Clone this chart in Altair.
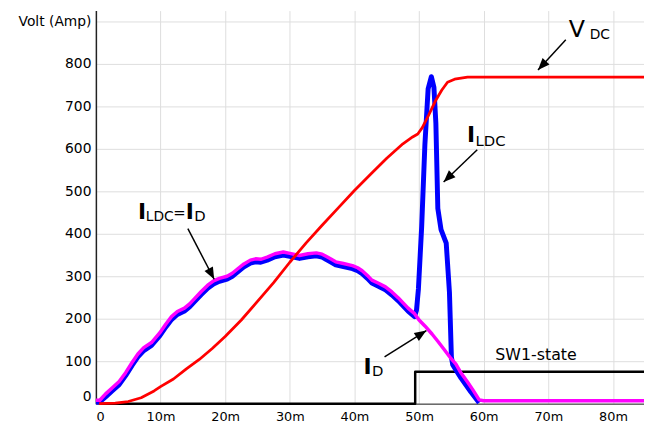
import math
import altair as alt
import pandas as pd

# ---------------- data ----------------
vdc_t = [0.5, 3, 5, 7, 9, 10, 12, 14, 16, 18, 20, 22.5, 25, 27.5, 30, 32.5, 35, 37.5, 40,
         42.5, 45, 47.5, 49.0, 49.8, 50.5, 51.5, 52.5, 53.5, 54.4, 55.5, 57.5, 84.8]
vdc_v = [0, 1, 5, 14, 30, 40, 58, 82, 104, 130, 158, 197, 241, 285, 333, 378, 420, 461, 502,
         540, 578, 612, 628, 635, 650, 680, 712, 738, 757, 764, 769, 769]

ildc_t = [0, 0.6, 1.5, 2.5, 3.6, 4.6, 5.6, 6.5, 7.4, 8.6, 9.9, 10.8, 11.7, 12.6, 13.7, 14.5,
          15.3, 16.3, 17.3, 18.2, 19.1, 20.3, 21.1, 21.9, 22.9, 23.9, 24.7, 25.5, 26.5, 27.7,
          29.0, 30.0, 31.5, 32.8, 34.1, 35.0, 35.6, 36.3, 37.1, 38.3, 39.7, 40.5, 41.2, 42.0,
          42.7, 43.8, 44.8, 45.8, 46.8, 47.6, 48.3, 49.3,
          49.6, 49.9, 50.4, 50.9, 51.4, 51.9, 52.3, 52.6, 52.9, 53.4, 54.2, 54.7, 55.0, 55.2,
          56.5, 58.0, 59.3]
ildc_v = [4, 4, 16, 30, 45, 66, 90, 110, 125, 137, 160, 180, 198, 210, 218, 228,
          241, 257, 272, 282, 288, 293, 300, 310, 322, 331, 334, 333, 338, 346,
          350, 347, 342, 346, 348, 345, 340, 334, 327, 323, 318, 313, 306, 295,
          284, 276, 268, 256, 242, 229, 218, 205,
          220, 270, 416, 610, 741, 770, 745, 660, 460, 410, 378, 262, 110, 92,
          60, 28, 2]

id_t = [0, 0.6, 1.5, 2.5, 3.6, 4.6, 5.6, 6.5, 7.4, 8.6, 9.9, 10.8, 11.7, 12.6, 13.7, 14.5,
        15.3, 16.3, 17.3, 18.2, 19.1, 20.3, 21.1, 21.9, 22.9, 23.9, 24.7, 25.5, 26.5, 27.7,
        29.0, 30.0, 31.5, 32.8, 34.1, 35.0, 35.6, 36.3, 37.1, 38.3, 39.7, 40.5, 41.2, 42.0,
        42.7, 43.8, 44.8, 45.8, 46.8, 47.6, 48.3, 49.3,
        50.0, 50.9, 52.0, 52.9, 54.0, 54.9, 55.7, 56.5, 57.5, 58.3, 59.3, 60.0, 84.8]
id_v = [8, 8, 23, 37, 52, 73, 97, 117, 132, 144, 167, 187, 205, 217, 225, 235,
        248, 264, 279, 289, 295, 300, 307, 317, 329, 338, 341, 340, 345, 353,
        357, 354, 349, 353, 355, 352, 347, 341, 334, 330, 325, 320, 313, 302,
        291, 283, 275, 263, 249, 236, 225, 212,
        197, 183, 164, 147, 125, 107, 93, 72, 51, 33, 9, 7, 7]

sw_t = [0.5, 49.4, 49.4, 84.8]
sw_v = [0, 0, 75, 75]

x_ticks = [0, 10, 20, 30, 40, 50, 60, 70, 80]
y_ticks = [0, 100, 200, 300, 400, 500, 600, 700, 800, 900]

# annotation text pieces: (t, v, text, font size, bold)
ann_t = [73.15, 76.4, 57.4, 58.74, 6.5, 7.72, 11.98, 13.92, 15.2, 41.4, 42.7, 61.8]
ann_v = [863, 858, 615, 607, 435, 429, 438, 435, 429, 71, 66, 103.5]
ann_text = ["V", "DC", "I", "LDC", "I", "LDC", "=", "I", "D", "I", "D", "SW1-state"]
ann_size = [24, 14, 22, 15, 22, 14, 15, 22, 15, 22, 15, 16]
ann_bold = [False, False, True, False, True, False, False, True, False, True, False, False]

# arrows: start (t, v) -> tip (t, v)
arr_t0 = [72.7, 59.0, 14.23, 44.66]
arr_v0 = [857, 598, 412, 110]
arr_t1 = [68.4, 53.8, 18.3, 51.13]
arr_v1 = [786, 522, 293, 172]

# ---------------- chart ----------------
W, H = 555, 398
XMAX, YMAX = 84.8, 925.6
sx, sy = W / XMAX, H / YMAX

xs = alt.Scale(domain=[0, XMAX], nice=False, zero=False)
ys = alt.Scale(domain=[0, YMAX], nice=False)

FONT = "DejaVu Sans"

x_axis = alt.Axis(values=x_ticks, labelExpr="datum.value == 0 ? '0' : datum.value + 'm'",
                  title=None, grid=True, gridColor="#dddddd", ticks=False,
                  domainColor="#222222", domainWidth=1, labelFont=FONT, labelFontSize=13,
                  labelColor="#000000", labelPadding=7, labelFlush=True)
y_axis = alt.Axis(values=y_ticks,
                  labelExpr="datum.value == 900 ? 'Volt (Amp)' : datum.label",
                  title=None, grid=True, gridColor="#dddddd", ticks=False,
                  domainColor="#222222", domainWidth=1.5, labelFont=FONT, labelFontSize=14,
                  labelColor="#000000", labelPadding=5, labelFlush=True)


def X(field):
    return alt.X(field, scale=xs, axis=x_axis, title=None)


def Y(field):
    return alt.Y(field, scale=ys, axis=y_axis, title=None)


def line_df(t, v):
    return pd.DataFrame({"t": t, "v": v, "o": list(range(len(t)))})


def line_layer(df, color, width):
    return alt.Chart(df).mark_line(color=color, strokeWidth=width, strokeJoin="round").encode(
        x=X("t:Q"), y=Y("v:Q"), order="o:Q")


sw_layer = line_layer(line_df(sw_t, sw_v), "#000000", 2.5)
blue_layer = line_layer(line_df(ildc_t, ildc_v), "#0000ff", 5)
mag_layer = line_layer(line_df(id_t, id_v), "#ff00ff", 3.5)
red_layer = line_layer(line_df(vdc_t, vdc_v), "#ff0000", 2.8)

ann_df = pd.DataFrame({"t": ann_t, "v": ann_v, "text": ann_text, "size": ann_size,
                       "bold": ann_bold})


def text_layer(bold):
    return alt.Chart(ann_df[ann_df["bold"] == bold]).mark_text(
        align="left", baseline="alphabetic", font=FONT, color="#000000",
        fontWeight="bold" if bold else "normal").encode(
        x=X("t:Q"), y=Y("v:Q"),
        text="text:N",
        size=alt.Size("size:Q", scale=None, legend=None),
    )


angles = []
for a, b, c, d in zip(arr_t0, arr_v0, arr_t1, arr_v1):
    dx = (c - a) * sx
    dy = -(d - b) * sy
    angles.append(math.degrees(math.atan2(dx, -dy)) % 360)

arr_df = pd.DataFrame({"t": arr_t0, "v": arr_v0, "t1": arr_t1, "v1": arr_v1,
                       "angle": angles})

shaft = alt.Chart(arr_df).mark_rule(color="#000000", strokeWidth=1.5).encode(
    x=X("t:Q"), y=Y("v:Q"), x2="t1:Q", y2="v1:Q")
head = alt.Chart(arr_df).mark_point(shape="M0,0L0.8,2L-0.8,2Z", filled=True, opacity=1,
                                    color="#000000", size=144).encode(
    x=X("t1:Q"), y=Y("v1:Q"),
    angle=alt.Angle("angle:Q", scale=None))

chart = alt.layer(sw_layer, blue_layer, mag_layer, red_layer, shaft, head,
                  text_layer(False), text_layer(True)).properties(
    width=W, height=H,
    autosize=alt.AutoSizeParams(type="none"),
    padding={"left": 89, "top": 0, "right": 0, "bottom": 20},
    background="#ffffff",
).configure_view(stroke=None)

chart.save("out.html", embed_options={"renderer": "svg", "actions": False})
